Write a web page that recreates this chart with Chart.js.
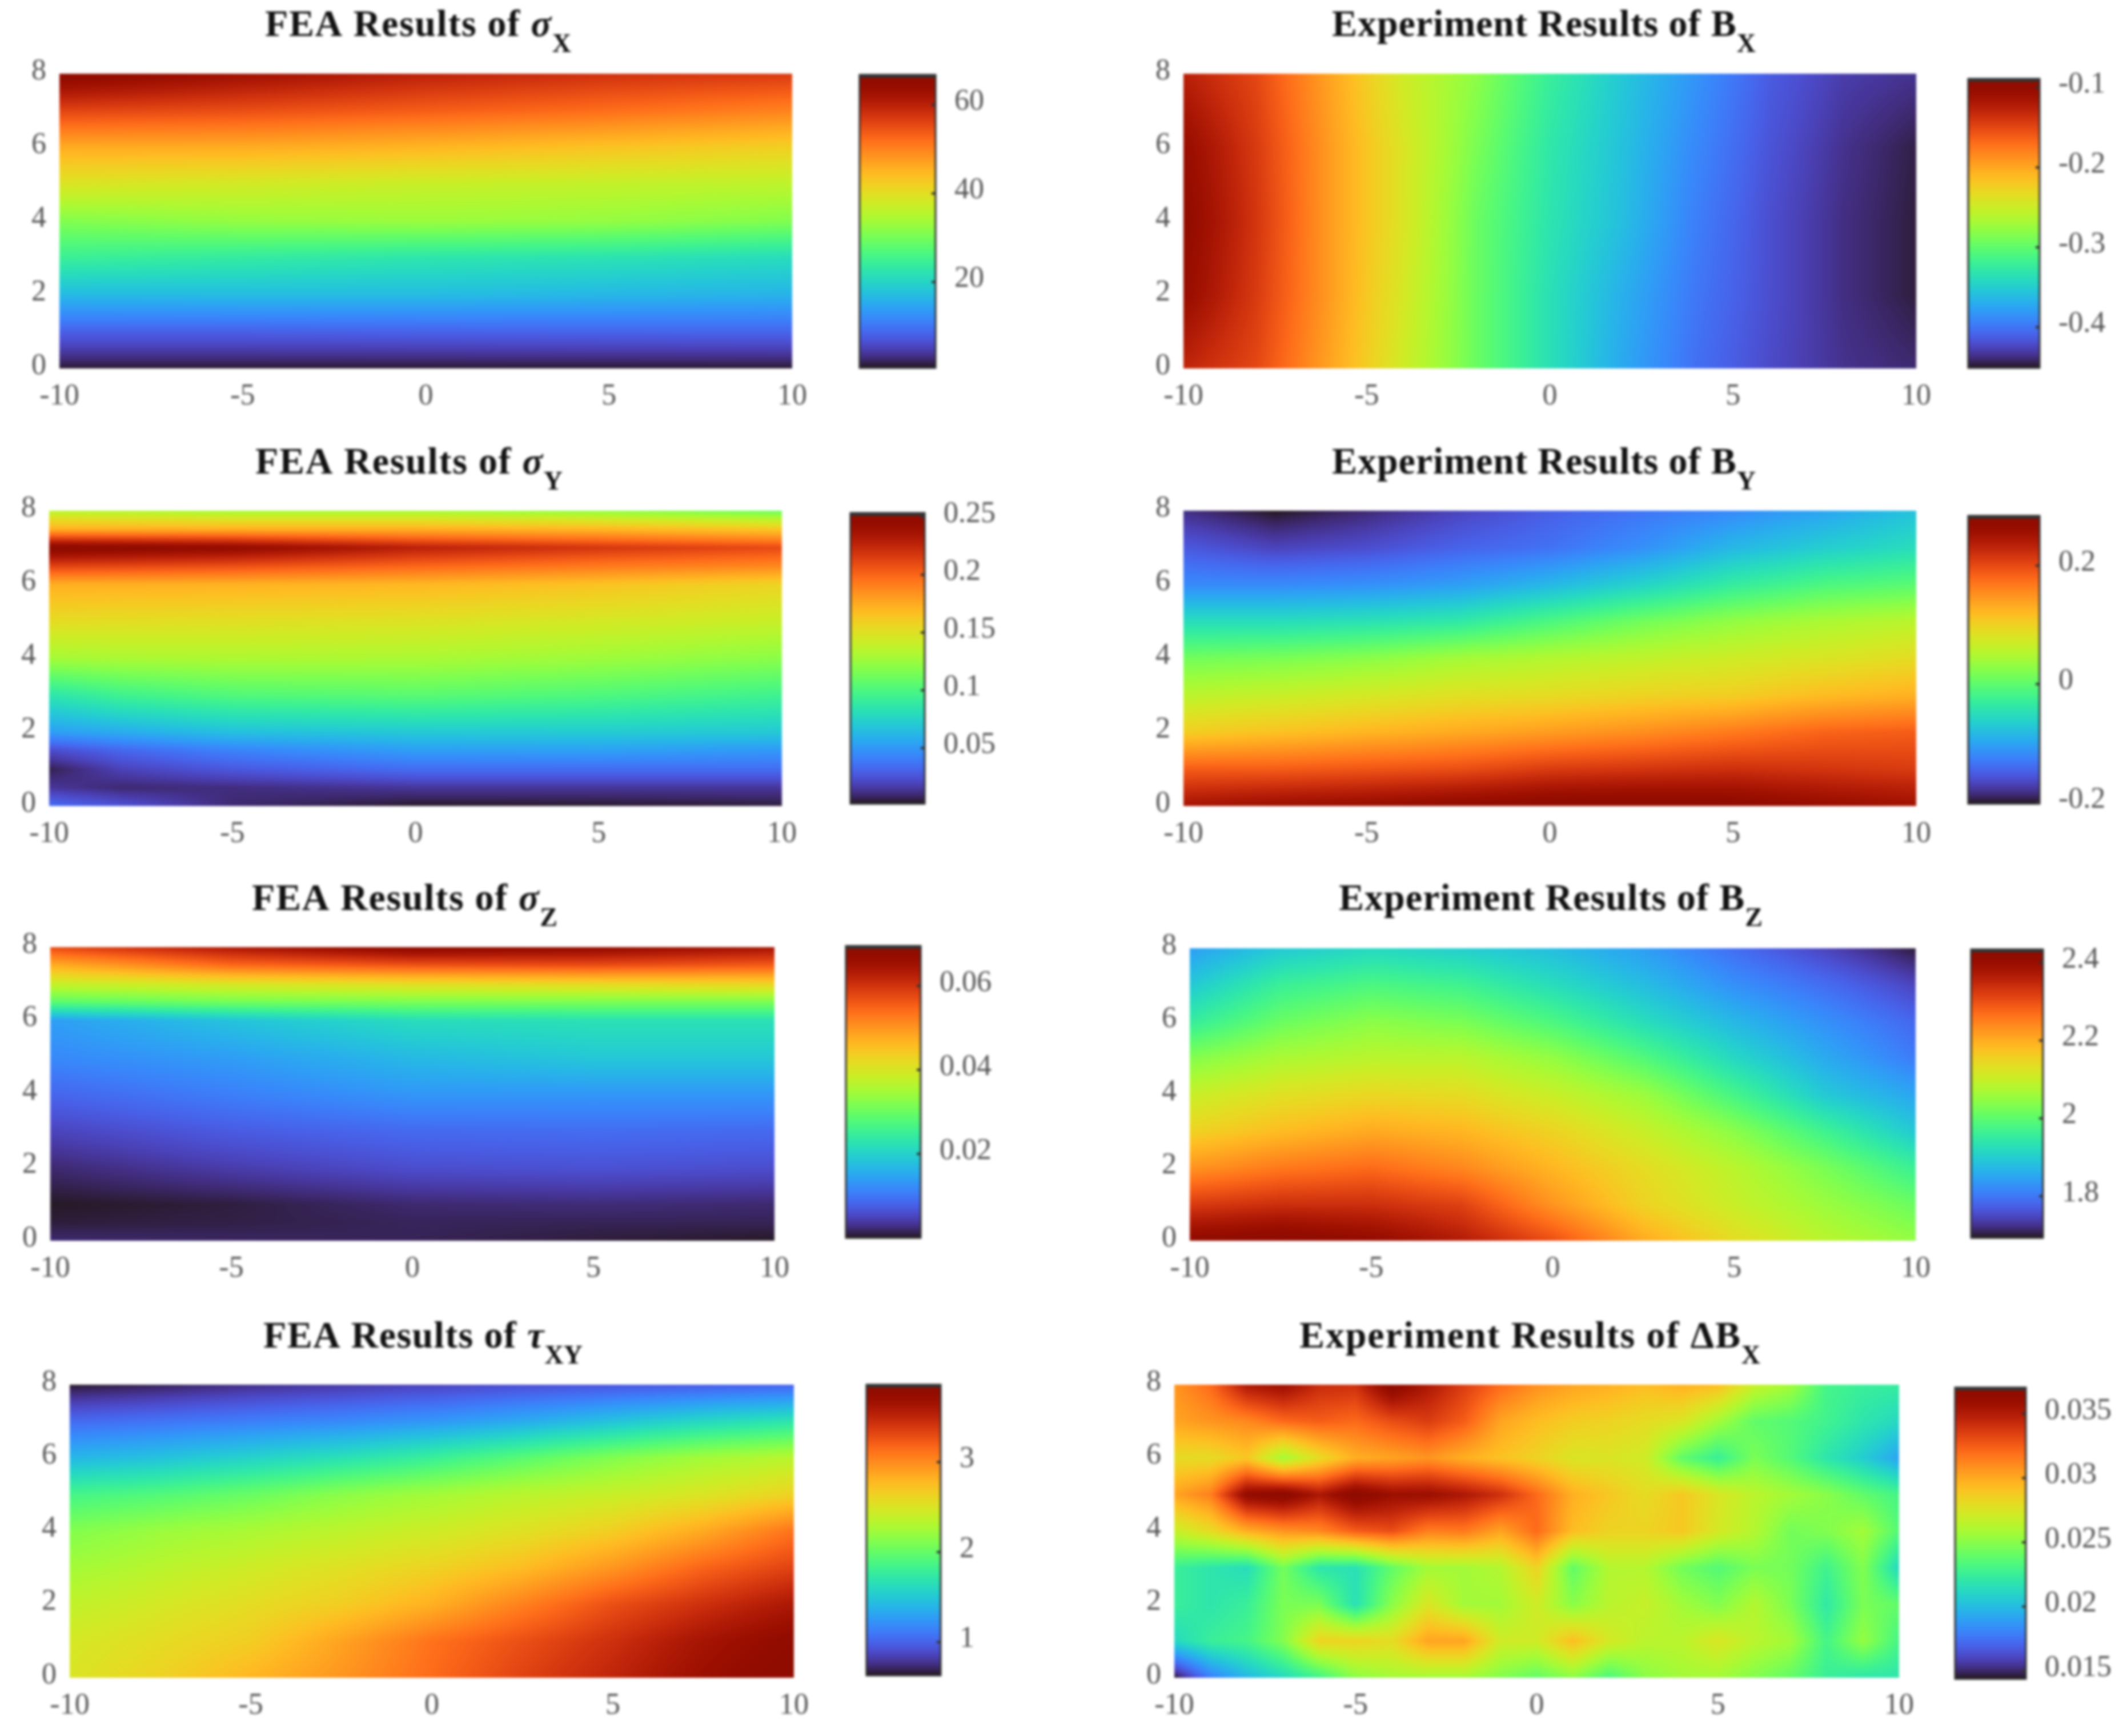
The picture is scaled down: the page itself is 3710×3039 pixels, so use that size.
<!DOCTYPE html>
<html><head><meta charset="utf-8"><title>FEA and experiment results</title>
<style>html,body{margin:0;padding:0;background:#fff}body{position:relative;width:3710px;height:3039px;overflow:hidden}canvas{position:absolute;filter:blur(2px)}</style>
<script src="https://cdn.jsdelivr.net/npm/chart.js@4/dist/chart.umd.min.js"></script></head><body>
<script>
// ---------- values ----------
const xTicks=[-10,-5,0,5,10], yTicks=[0,2,4,6,8];

const sigmaXCols=[-10,-5,0,5,10];
const sigmaXRows=[8,7,6,5,4,3,2,1,0];
const sigmaXVals=[[66.5,63,60,58,57],[56,55,53.5,52,50],[46,46,45,43.5,42],[39,38,37,36.5,36],[31,32.5,33,32.5,31],[24.5,23.5,22.5,22,21],[16.8,17,17,16.5,16],[8,8,8.2,8.4,8.5],[1,1,1,1,1]];
const sigmaXBar=[0.6,66.8], sigmaXBarTicks=[20,40,60];

const bXCols=[-10,-8,-6,-4,-2,0,2,4,6,8,10];
const bXRows=[8,6,4,2,0];
const bXVals=[[-.125,-.150,-.198,-.248,-.280,-.322,-.354,-.384,-.413,-.429,-.435],[-.103,-.143,-.194,-.241,-.288,-.329,-.358,-.390,-.417,-.435,-.446],[-.096,-.140,-.194,-.241,-.295,-.332,-.360,-.395,-.420,-.437,-.447],[-.103,-.143,-.194,-.244,-.295,-.336,-.369,-.399,-.420,-.437,-.447],[-.129,-.150,-.198,-.248,-.295,-.336,-.373,-.403,-.422,-.435,-.440]];
const bXBar=[-0.451,-0.089], bXBarTicks=[-0.4,-0.3,-0.2,-0.1];

const sigmaYCols=[-10,-8,-5,0,5,10];
const sigmaYRows=[8,7.5,7,6.5,6,5,4,3,2,1.5,1,.5,0];
const sigmaYVals=[[.135,.132,.128,.128,.122,.110],[.173,.173,.173,.173,.170,.163],[.253,.250,.246,.228,.218,.210],[.213,.211,.208,.200,.193,.188],[.173,.173,.172,.170,.165,.157],[.153,.152,.151,.149,.145,.140],[.128,.130,.131,.130,.126,.120],[.085,.095,.102,.105,.101,.095],[.052,.058,.066,.070,.071,.070],[.022,.032,.042,.052,.053,.050],[.006,.019,.027,.0345,.0345,.0345],[.0144,.0094,.011,.0144,.0144,.0144],[.0345,.0245,.0094,.0025,.003,.0043]];
const sigmaYBar=[0.0018,0.2535], sigmaYBarTicks=[0.05,0.1,0.15,0.2,0.25];

const bYCols=[-10,-7.5,-5,-2.5,0,2.5,5,7.5,10];
const bYRows=[8,7,6,5,4,3,2,1,0];
const bYVals=[[-.183,-.202,-.187,-.168,-.149,-.134,-.119,-.100,-.076],[-.153,-.168,-.161,-.146,-.136,-.115,-.085,-.066,-.051],[-.119,-.119,-.115,-.105,-.085,-.061,-.032,-.012,-.003],[-.051,-.051,-.046,-.037,-.012,.012,.031,.046,.056],[.012,.017,.026,.041,.051,.060,.070,.080,.090],[.056,.065,.075,.085,.090,.099,.104,.119,.128],[.104,.114,.124,.133,.143,.153,.167,.182,.187],[.187,.187,.192,.197,.211,.216,.221,.216,.211],[.250,.260,.265,.274,.282,.284,.279,.265,.255]];
const bYBar=[-0.202,0.284], bYBarTicks=[-0.2,0,0.2];

const sigmaZCols=[-10,-5,0,5,10];
const sigmaZRows=[8,7.5,7,6.5,6,5,4,3,2,1,.5,0];
const sigmaZVals=[[.0577,.0639,.0688,.0674,.0646],[.0473,.0542,.0563,.057,.0556],[.0382,.0403,.0417,.0424,.0431],[.0285,.0306,.0313,.0313,.0313],[.0139,.0181,.0215,.0222,.0222],[.0118,.0139,.017,.0188,.0188],[.0083,.0108,.0132,.0132,.0132],[.0049,.0073,.0087,.009,.0087],[.0021,.0042,.0059,.0063,.0059],[.0002,.0008,.0021,.0024,.0021],[.0007,.001,.0015,.0014,.0014],[.0021,.0017,.0014,.0007,.0002]];
const sigmaZBar=[0,0.0695], sigmaZBarTicks=[0.02,0.04,0.06];

const bZCols=[-10,-7.5,-5,-2.5,0,2.5,5,7.5,10];
const bZRows=[8,7,6,5,4,3,2,1,0];
const bZVals=[[1.841,1.893,1.915,1.900,1.878,1.841,1.789,1.745,1.700],[1.893,1.960,1.982,1.967,1.923,1.878,1.826,1.789,1.745],[1.952,2.012,2.041,2.026,1.982,1.923,1.871,1.826,1.782],[2.034,2.071,2.086,2.086,2.049,1.989,1.915,1.856,1.804],[2.101,2.130,2.145,2.138,2.101,2.056,1.975,1.893,1.849],[2.152,2.182,2.204,2.189,2.152,2.101,2.041,1.967,1.893],[2.227,2.256,2.271,2.241,2.189,2.138,2.086,2.026,1.960],[2.323,2.338,2.338,2.315,2.227,2.152,2.101,2.056,2.012],[2.419,2.434,2.412,2.367,2.301,2.204,2.138,2.086,2.049]];
const bZBar=[1.693,2.434], bZBarTicks=[1.8,2,2.2,2.4];

const tauCols=[-10,-7.5,-5,-2.5,0,2.5,5,7.5,10];
const tauRows=[8,7,6,5,4,3,2,1,0];
const tauVals=[[.646,.695,.759,.808,.856,.905,.937,.969,1.001],[1.034,1.082,1.131,1.179,1.244,1.341,1.470,1.599,1.696],[1.405,1.470,1.567,1.664,1.793,1.954,2.116,2.245,2.342],[1.857,1.922,2.019,2.148,2.245,2.342,2.407,2.503,2.633],[2.116,2.213,2.277,2.358,2.439,2.536,2.665,2.859,3.117],[2.245,2.342,2.439,2.536,2.633,2.762,2.956,3.182,3.343],[2.374,2.471,2.568,2.665,2.826,3.053,3.279,3.440,3.602],[2.471,2.568,2.665,2.891,3.117,3.279,3.440,3.634,3.795],[2.503,2.633,2.794,2.956,3.149,3.343,3.505,3.699,3.860]];
const tauBar=[0.63,3.86], tauBarTicks=[1,2,3];

const dBXCols=[-10,-9,-8,-7,-6,-5,-4,-3,-2,-1,0,1,2,3,4,5,6,7,8,9,10];
const dBXRows=[8,7,6,5,4,3,2,1,0];
const dBXVals=[
[.0307,.0321,.0352,.0359,.0343,.0341,.037,.0352,.0336,.0321,.0309,.0302,.0298,.0293,.0298,.0293,.0268,.0257,.023,.0225,.0223],
[.0302,.0307,.0311,.0321,.0325,.0321,.033,.0336,.0325,.0302,.0293,.0287,.0284,.028,.0275,.0257,.0239,.0235,.0228,.0219,.0212],
[.028,.028,.0289,.0257,.028,.0298,.0302,.0307,.0298,.0291,.0284,.0275,.0275,.0271,.0239,.0225,.0246,.0235,.0219,.0207,.0191],
[.0302,.0314,.0364,.037,.0352,.037,.0359,.0359,.0352,.0341,.0321,.0298,.0289,.028,.0289,.0275,.0264,.0257,.025,.0239,.023],
[.0268,.028,.0298,.0307,.0311,.0325,.033,.0314,.0316,.0302,.0321,.0293,.0284,.0284,.0289,.0273,.0262,.0244,.0248,.0257,.0235],
[.0225,.0219,.0214,.0244,.0219,.0216,.0239,.0257,.0257,.0262,.0284,.0239,.0262,.0262,.0244,.0235,.0246,.0244,.0228,.0248,.0212],
[.0225,.0219,.0225,.0246,.0246,.0216,.025,.0275,.0257,.0257,.0271,.025,.0264,.0268,.0257,.0248,.0262,.0246,.0221,.0246,.0239],
[.0212,.0225,.023,.0248,.0284,.0284,.028,.0302,.0302,.0271,.0271,.0293,.0273,.0264,.0264,.0275,.0264,.0257,.023,.0253,.023],
[.0144,.0178,.0198,.0212,.0228,.025,.0257,.0257,.0257,.0248,.0239,.025,.0232,.025,.0257,.0257,.0248,.0239,.0225,.0219,.0219]];
const dBXBar=[0.01438,0.03704], dBXBarTicks=[0.015,0.02,0.025,0.03,0.035];

// ---------- panel layout (page pixels) ----------
const panels=[
 {main:'FEA Results of ',sym:'σ',sub:'X',cols:sigmaXCols,rows:sigmaXRows,vals:sigmaXVals,bar:sigmaXBar,barTicks:sigmaXBarTicks,plot:[104,129,1387,645],cb:[1505,131,1638,644],title:[464,1000,63]},
 {main:'Experiment Results of B',sym:'',sub:'X',cols:bXCols,rows:bXRows,vals:bXVals,bar:bXBar,barTicks:bXBarTicks,plot:[2072,129,3355,645],cb:[3446,138,3571,644],title:[2332,3074,63]},
 {main:'FEA Results of ',sym:'σ',sub:'Y',cols:sigmaYCols,rows:sigmaYRows,vals:sigmaYVals,bar:sigmaYBar,barTicks:sigmaYBarTicks,plot:[86,894,1369,1411],cb:[1489,898,1619,1407],title:[447,985,829]},
 {main:'Experiment Results of B',sym:'',sub:'Y',cols:bYCols,rows:bYRows,vals:bYVals,bar:bYBar,barTicks:bYBarTicks,plot:[2072,894,3355,1411],cb:[3446,903,3571,1407],title:[2332,3074,829]},
 {main:'FEA Results of ',sym:'σ',sub:'Z',cols:sigmaZCols,rows:sigmaZRows,vals:sigmaZVals,bar:sigmaZBar,barTicks:sigmaZBarTicks,plot:[88,1658,1356,2172],cb:[1481,1656,1612,2167],title:[441,976,1593]},
 {main:'Experiment Results of B',sym:'',sub:'Z',cols:bZCols,rows:bZRows,vals:bZVals,bar:bZBar,barTicks:bZBarTicks,plot:[2083,1660,3354,2172],cb:[3451,1662,3577,2167],title:[2344,3086,1593]},
 {main:'FEA Results of ',sym:'τ',sub:'XY',cols:tauCols,rows:tauRows,vals:tauVals,bar:tauBar,barTicks:tauBarTicks,plot:[122,2424,1390,2937],cb:[1517,2424,1647,2933],title:[461,1020,2359]},
 {main:'Experiment Results of ΔB',sym:'',sub:'X',cols:dBXCols,rows:dBXRows,vals:dBXVals,bar:dBXBar,barTicks:dBXBarTicks,plot:[2056,2424,3325,2937],cb:[3423,2429,3547,2939],title:[2275,3082,2359]}
];

// ---------- colour map ----------
function turbo(t){t=Math.min(1,Math.max(0,t));
 let r=0.13572138+t*(4.61539260+t*(-42.66032258+t*(132.13108234+t*(-152.94239396+t*59.28637943))));
 const g=0.09140261+t*(2.19418839+t*(4.84296658+t*(-14.18503333+t*(4.27729857+t*2.82956604))));
 let b=0.10667330+t*(12.64194608+t*(-60.58204836+t*(110.36276771+t*(-89.90310912+t*27.34824973))));
 r+=0.05*Math.exp(-Math.pow((t-.5)/.1,2));
 b*=1-0.35*Math.exp(-Math.pow((t-.55)/.12,2));
 const c=v=>Math.round(255*Math.min(1,Math.max(0,v)));return [c(r),c(g),c(b)];}
const lut=[];for(let i=0;i<=1023;i++)lut.push(turbo(i/1023));

function locate(arr,v){for(let i=0;i<arr.length-1;i++){const a=arr[i],b=arr[i+1];if((v>=a&&v<=b)||(v<=a&&v>=b))return [i,(v-a)/(b-a)];}
 const d=arr[arr.length-1]>arr[0]?1:-1;return (v-arr[0])*d<0?[0,0]:[arr.length-2,1];}

const SERIF='"Liberation Serif","DejaVu Serif",serif';
const TICK='#565656';
function mk(left,top,w,h){const c=document.createElement('canvas');c.width=w;c.height=h;c.style.left=left+'px';c.style.top=top+'px';c.style.width=w+'px';c.style.height=h+'px';document.body.appendChild(c);return c;}

function heatChart(p){
 const [L,T,R,B]=p.plot,padL=115,padT=135,padR=75,padB=105;
 const cv=mk(L-padL,T-padT,R-L+padL+padR,B-T+padT+padB);
 const cells=[];p.rows.forEach((y,j)=>p.cols.forEach((x,i)=>cells.push({x,y,v:p.vals[j][i]})));
 const field={id:'heatField',beforeDatasetsDraw(chart){
   const {ctx,chartArea:a,scales:{x,y}}=chart;const w=Math.round(a.width),h=Math.round(a.height);
   const off=document.createElement('canvas');off.width=w;off.height=h;const oc=off.getContext('2d');const img=oc.createImageData(w,h);
   const cx=[];for(let i=0;i<w;i++)cx.push(locate(p.cols,x.getValueForPixel(a.left+i+.5)));
   const cy=[];for(let j=0;j<h;j++)cy.push(locate(p.rows,y.getValueForPixel(a.top+j+.5)));
   const [mn,mx]=p.bar;let k=0;
   for(let j=0;j<h;j++){const [r,ty]=cy[j],r0=p.vals[r],r1=p.vals[r+1];
     for(let i=0;i<w;i++){const [c,tx]=cx[i];
       const v=(r0[c]*(1-tx)+r0[c+1]*tx)*(1-ty)+(r1[c]*(1-tx)+r1[c+1]*tx)*ty;
       const u=Math.min(1023,Math.max(0,Math.round((v-mn)/(mx-mn)*1023)));const col=lut[u];
       img.data[k++]=col[0];img.data[k++]=col[1];img.data[k++]=col[2];img.data[k++]=255;}}
   oc.putImageData(img,0,0);ctx.drawImage(off,a.left,a.top,a.width,a.height);
 }};
 const heading={id:'heading',afterDraw(chart){
   const ctx=chart.ctx,[x0,x1,base]=p.title,ox=L-padL,oy=T-padT;ctx.save();ctx.textBaseline='alphabetic';ctx.textAlign='left';ctx.fillStyle='#111';
   const fM='bold 66px '+SERIF,fS='italic bold 66px '+SERIF,fB='bold 46px '+SERIF;
   ctx.letterSpacing='0px';
   ctx.font=fM;let wm=ctx.measureText(p.main).width;ctx.font=fS;const ws=p.sym?ctx.measureText(p.sym).width:0;ctx.font=fB;const wb=ctx.measureText(p.sub).width;
   const gaps=p.main.length+p.sym.length;const sp=((x1-x0)-(wm+ws+wb))/gaps;
   let px=x0-ox;ctx.letterSpacing=sp+'px';ctx.font=fM;ctx.fillText(p.main,px,base-oy);px+=wm+sp*p.main.length;
   if(p.sym){ctx.font=fS;ctx.fillText(p.sym,px,base-oy);px+=ws+sp;}
   ctx.letterSpacing='0px';ctx.font=fB;ctx.fillText(p.sub,px,base-oy+28);ctx.restore();
 }};
 new Chart(cv,{type:'scatter',data:{datasets:[{label:p.main+p.sym+p.sub,data:cells,pointRadius:0,pointHoverRadius:0}]},
  options:{responsive:false,animation:false,devicePixelRatio:1,events:[],layout:{padding:{top:padT,right:padR,left:0,bottom:0}},
   plugins:{legend:{display:false},title:{display:false},tooltip:{enabled:false}},
   scales:{
    x:{type:'linear',min:-10,max:10,grid:{display:false},border:{display:false},afterFit(s){s.height=padB;},afterBuildTicks(s){s.ticks=xTicks.map(value=>({value}));},
       ticks:{autoSkip:false,maxRotation:0,padding:10,color:TICK,font:{family:SERIF,size:52},callback:v=>String(v)}},
    y:{type:'linear',min:0,max:8,grid:{display:false},border:{display:false},afterFit(s){s.width=padL;},afterBuildTicks(s){s.ticks=yTicks.map(value=>({value}));},
       ticks:{autoSkip:false,padding:15,labelOffset:-4,color:TICK,font:{family:SERIF,size:52},callback:v=>String(v)}}
   }},plugins:[field,heading]});
}

function barChart(p){
 const [L,T,R,B]=p.cb,padL=12,padV=80,padR=150;
 const cv=mk(L-padL,T-padV,R-L+padL+padR,B-T+2*padV);
 const frame={id:'cbFrame',afterDatasetsDraw(chart){
   const {ctx,chartArea:a,scales:{y}}=chart;ctx.save();ctx.strokeStyle='#2a2a2a';ctx.lineWidth=3;ctx.strokeRect(a.left,a.top,a.width,a.height);
   ctx.fillStyle='#333';ctx.fillRect(a.left,a.top,a.width,5);
   y.ticks.forEach(t=>{const py=y.getPixelForValue(t.value);ctx.fillRect(a.right-7,py-2,7,4);});ctx.restore();}};
 new Chart(cv,{type:'bar',data:{labels:[''],datasets:[{label:'colour scale',data:[p.bar],barPercentage:1,categoryPercentage:1,borderWidth:0,
   backgroundColor(c){const a=c.chart.chartArea;if(!a)return '#888';const g=c.chart.ctx.createLinearGradient(0,a.bottom,0,a.top);for(let i=0;i<=64;i++){const q=turbo(i/64);g.addColorStop(i/64,`rgb(${q[0]},${q[1]},${q[2]})`);}return g;}}]},
  options:{responsive:false,animation:false,devicePixelRatio:1,events:[],layout:{padding:{top:padV,bottom:padV,left:padL,right:0}},
   plugins:{legend:{display:false},title:{display:false},tooltip:{enabled:false}},
   scales:{
    x:{display:false},
    y:{type:'linear',position:'right',min:p.bar[0],max:p.bar[1],grid:{display:false},border:{display:false},afterFit(s){s.width=padR;},afterBuildTicks(s){s.ticks=p.barTicks.map(value=>({value}));},
       ticks:{autoSkip:false,padding:25,labelOffset:-5,color:TICK,font:{family:SERIF,size:52},callback:v=>String(v)}}
   }},plugins:[frame]});
}
panels.forEach(p=>{heatChart(p);barChart(p);});
</script></body></html>
